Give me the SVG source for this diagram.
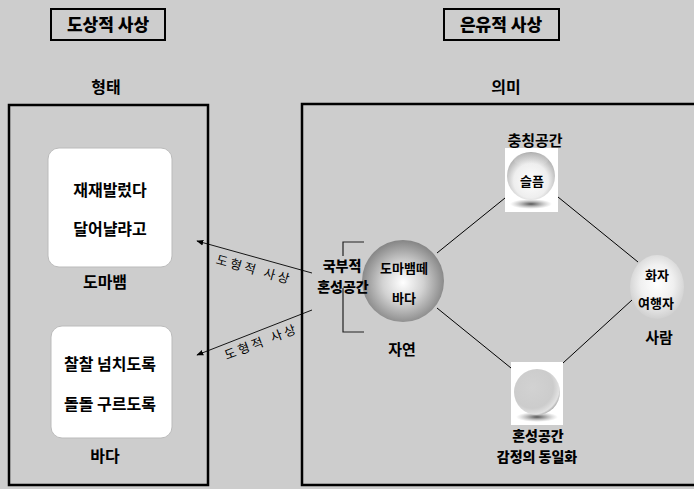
<svg xmlns="http://www.w3.org/2000/svg" width="694" height="489" viewBox="0 0 694 489">
<style>
text{font-family:"Noto Sans CJK KR","Noto Sans",sans-serif;fill:#000;text-anchor:middle}
.t17{font-size:17px;font-weight:900}
.t16{font-size:16px;font-weight:700}
.t15{font-size:15px;font-weight:700}
.t14{font-size:14px;font-weight:900}
.t13{font-size:13px;font-weight:700}
.lbl{font-size:12.5px;font-weight:400;letter-spacing:3px}
.frame{fill:none;stroke:#000;stroke-width:2.5}
.title{fill:none;stroke:#000;stroke-width:2}
.card{fill:#fff;stroke:#bbb;stroke-width:1}
.con{stroke:#000;stroke-width:1;fill:none}
.arr{stroke:#000;stroke-width:0.9;fill:none;marker-end:url(#ah)}
.brk{stroke:#222;stroke-width:1.2;fill:none}
</style>
<defs>
<marker id="ah" viewBox="0 0 10 10" refX="9" refY="5" markerWidth="7" markerHeight="7" orient="auto" markerUnits="userSpaceOnUse">
<path d="M0,1 L10,5 L0,9 z" fill="#000"/>
</marker>
<radialGradient id="gBig" cx="0.5" cy="0.52" r="0.55">
<stop offset="0" stop-color="#ffffff"/>
<stop offset="0.45" stop-color="#d2d2d2"/>
<stop offset="1" stop-color="#7c7c7c"/>
</radialGradient>
<radialGradient id="gTop" cx="0.5" cy="0.6" r="0.6">
<stop offset="0" stop-color="#ffffff"/>
<stop offset="0.6" stop-color="#eeeeee"/>
<stop offset="1" stop-color="#a8a8a8"/>
</radialGradient>
<linearGradient id="gTopHi" x1="0" y1="0" x2="0" y2="1">
<stop offset="0" stop-color="#bdbdbd"/>
<stop offset="1" stop-color="#ffffff" stop-opacity="0"/>
</linearGradient>
<radialGradient id="gBot" cx="0.4" cy="0.4" r="0.65">
<stop offset="0" stop-color="#d2d2d2"/>
<stop offset="0.7" stop-color="#cccccc"/>
<stop offset="0.9" stop-color="#e2e2e2"/>
<stop offset="1" stop-color="#a0a0a0"/>
</radialGradient>
<radialGradient id="gRight" cx="0.5" cy="0.45" r="0.55">
<stop offset="0" stop-color="#ffffff"/>
<stop offset="0.55" stop-color="#f0f0f0"/>
<stop offset="1" stop-color="#d0d0d0"/>
</radialGradient>
<radialGradient id="gShadow" cx="0.5" cy="0.5" r="0.5">
<stop offset="0" stop-color="#555"/>
<stop offset="1" stop-color="#999" stop-opacity="0"/>
</radialGradient>
</defs>
<rect x="0" y="0" width="694" height="489" fill="#cdcdcd"/>

<g id="title-left">
<rect class="title" x="51" y="9" width="114" height="31"/>
<text class="t17" x="108" y="31">도상적 사상</text>
</g>
<g id="title-right">
<rect class="title" x="444" y="9" width="115" height="31"/>
<text class="t17" x="501" y="31">은유적 사상</text>
</g>
<g id="head-form"><text class="t16" x="106" y="93">형태</text></g>
<g id="head-meaning"><text class="t16" x="506" y="93">의미</text></g>

<g id="frame-form"><rect class="frame" x="9" y="105" width="199" height="380"/></g>
<g id="frame-meaning"><path class="frame" d="M700,104 H302 V485 H700"/></g>

<g id="card-domabaem">
<rect class="card" x="48" y="148" width="124" height="119" rx="11"/>
<text class="t16" x="110" y="196">재재발렀다</text>
<text class="t16" x="110" y="235">달어냘랴고</text>
<text class="t16" x="105" y="288">도마뱀</text>
</g>
<g id="card-bada">
<rect class="card" x="51" y="326" width="121" height="112" rx="11"/>
<text class="t16" x="110" y="370">찰찰 넘치도록</text>
<text class="t16" x="110" y="410">돌돌 구르도록</text>
<text class="t16" x="105" y="462">바다</text>
</g>

<g id="connectors">
<line class="arr" x1="312" y1="273" x2="197" y2="241"/>
<line class="arr" x1="312" y1="310" x2="197" y2="355"/>
<line class="con" x1="437" y1="253" x2="505" y2="198"/>
<line class="con" x1="558" y1="197" x2="638" y2="262"/>
<line class="con" x1="437" y1="308" x2="511" y2="368"/>
<line class="con" x1="563" y1="363" x2="632" y2="300"/>
<text class="lbl" transform="translate(253,274) rotate(15.5)" x="0" y="0">도형적 사상</text>
<text class="lbl" transform="translate(263,346) rotate(-21)" x="0" y="0">도형적 사상</text>
</g>

<g id="node-nature">
<circle cx="403" cy="281" r="41" fill="url(#gBig)"/>
<text class="t13" x="404" y="273">도마뱀떼</text>
<text class="t13" x="404" y="303">바다</text>
<text class="t15" x="402" y="355">자연</text>
</g>

<g id="bracket">
<path class="brk" d="M364,242 H343 V256"/>
<path class="brk" d="M343,288 V332 H364"/>
<text class="t14" x="342" y="271">국부적</text>
<text class="t14" x="343" y="292">혼성공간</text>
</g>

<g id="node-sorrow">
<text class="t15" x="535" y="146">충칭공간</text>
<rect x="505" y="148" width="53" height="64" fill="#fff"/>
<ellipse cx="531" cy="204" rx="21" ry="5" fill="url(#gShadow)"/>
<circle cx="531" cy="176" r="24" fill="url(#gTop)"/>
<ellipse cx="531" cy="160" rx="17" ry="7" fill="url(#gTopHi)" opacity="0.5"/>
<text class="t13" x="532" y="186">슬픔</text>
</g>

<g id="node-person">
<ellipse cx="657" cy="287" rx="27" ry="32" fill="url(#gRight)"/>
<text class="t13" x="657" y="280">화자</text>
<text class="t13" x="656" y="308">여행자</text>
<text class="t15" x="659" y="343">사람</text>
</g>

<g id="node-mixed">
<rect x="511" y="362" width="52" height="63" fill="#fff"/>
<ellipse cx="537" cy="417" rx="21" ry="5" fill="url(#gShadow)"/>
<circle cx="537" cy="392" r="23" fill="url(#gBot)"/>
<text class="t14" x="538" y="441">혼성공간</text>
<text class="t14" x="537" y="462">감정의 동일화</text>
</g>
</svg>
